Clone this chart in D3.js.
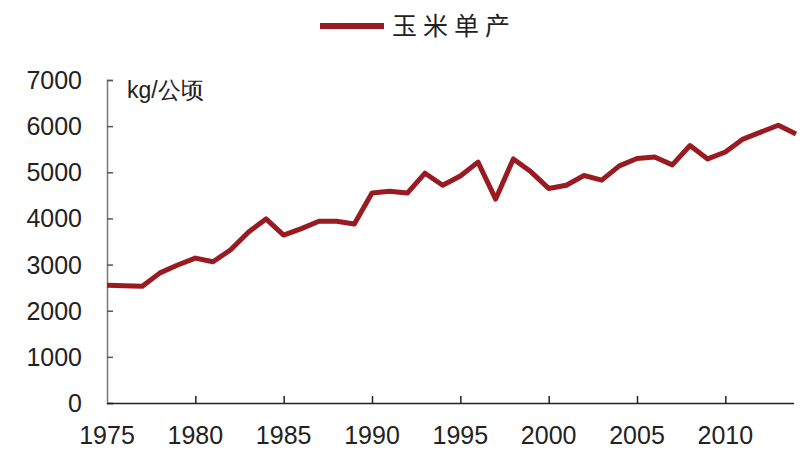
<!DOCTYPE html>
<html lang="zh"><head>
<meta charset="utf-8">
<title>玉米单产</title>
<script src="https://cdn.jsdelivr.net/npm/d3@7"></script>
<style>
  body { margin: 0; background: #fff; }
  text { font-family: "Liberation Sans", Arial, sans-serif; }
</style>
</head>
<body>
<script type="text/javascript">

var width = 800;
var height = 456;

// 年份与玉米单产 (kg/公顷)
var years = d3.range(1975, 2015);
var yields = [2550, 2540, 2530, 2820, 2990, 3140, 3060, 3320, 3700, 3990,
              3640, 3780, 3940, 3940, 3880, 4550, 4590, 4550, 4980, 4720,
              4920, 5220, 4420, 5290, 5010, 4650, 4720, 4930, 4830, 5140,
              5300, 5330, 5160, 5580, 5290, 5440, 5720, 5870, 6020, 5830];
var yTicks = [0, 1000, 2000, 3000, 4000, 5000, 6000, 7000];
var xTicks = [1975, 1980, 1985, 1990, 1995, 2000, 2005, 2010];
var seriesName = "玉米单产";
var unitLabel = "kg/公顷";

var lineColor = "#9a1a22";

var svg = d3.select("body").append("svg")
            .attr("width", width)
            .attr("height", height);

var x = d3.scaleLinear().domain([1975, 2014]).range([107, 796]);
var y = d3.scaleLinear().domain([0, 7000]).range([403, 80]);

// y axis
var yAxis = svg.append("g").attr("transform", "translate(107,0)")
    .call(d3.axisRight(y).tickValues(yTicks).tickSize(6).tickFormat(""));
yAxis.select(".domain").attr("stroke", "#777").attr("stroke-width", 1.5);
yAxis.selectAll(".tick line").attr("stroke", "#555").attr("stroke-width", 1.5);

svg.selectAll(".ylab")
    .data(yTicks)
    .enter()
    .append("text")
    .attr("class", "ylab")
    .attr("x", 82)
    .attr("y", function(d){ return y(d); })
    .attr("dy", "0.36em")
    .attr("text-anchor", "end")
    .attr("font-size", 25)
    .attr("fill", "#222")
    .text(function(d){ return d; });

// x axis
var xAxis = svg.append("g").attr("transform", "translate(0,403)")
    .call(d3.axisTop(x).tickValues(xTicks.slice(1)).tickSize(7).tickSizeOuter(0).tickFormat(""));
xAxis.select(".domain").attr("stroke", "#222").attr("stroke-width", 1.5)
    .attr("d", "M107,0.5H794");
xAxis.selectAll(".tick line").attr("stroke", "#222").attr("stroke-width", 1.5);

svg.selectAll(".xlab")
    .data(xTicks)
    .enter()
    .append("text")
    .attr("class", "xlab")
    .attr("x", function(d){ return x(d); })
    .attr("y", 444)
    .attr("text-anchor", "middle")
    .attr("font-size", 25)
    .attr("fill", "#222")
    .text(function(d){ return d; });

// unit label
svg.append("text")
    .attr("x", 127)
    .attr("y", 98)
    .attr("font-size", 23)
    .attr("fill", "#222")
    .text(unitLabel);

// series line
var line = d3.line()
    .x(function(d, i){ return x(years[i]); })
    .y(function(d){ return y(d); });

svg.append("path")
    .datum(yields)
    .attr("d", line)
    .attr("fill", "none")
    .attr("stroke", lineColor)
    .attr("stroke-width", 5)
    .attr("stroke-linejoin", "round");

// legend
svg.append("line")
    .attr("x1", 320).attr("x2", 384)
    .attr("y1", 26).attr("y2", 26)
    .attr("stroke", lineColor)
    .attr("stroke-width", 6);

svg.append("text")
    .attr("x", 392)
    .attr("y", 35)
    .attr("font-size", 25)
    .attr("letter-spacing", 6)
    .attr("fill", "#222")
    .style("font-family", "'Noto Sans CJK SC', sans-serif")
    .text(seriesName);

</script>
</body></html>
